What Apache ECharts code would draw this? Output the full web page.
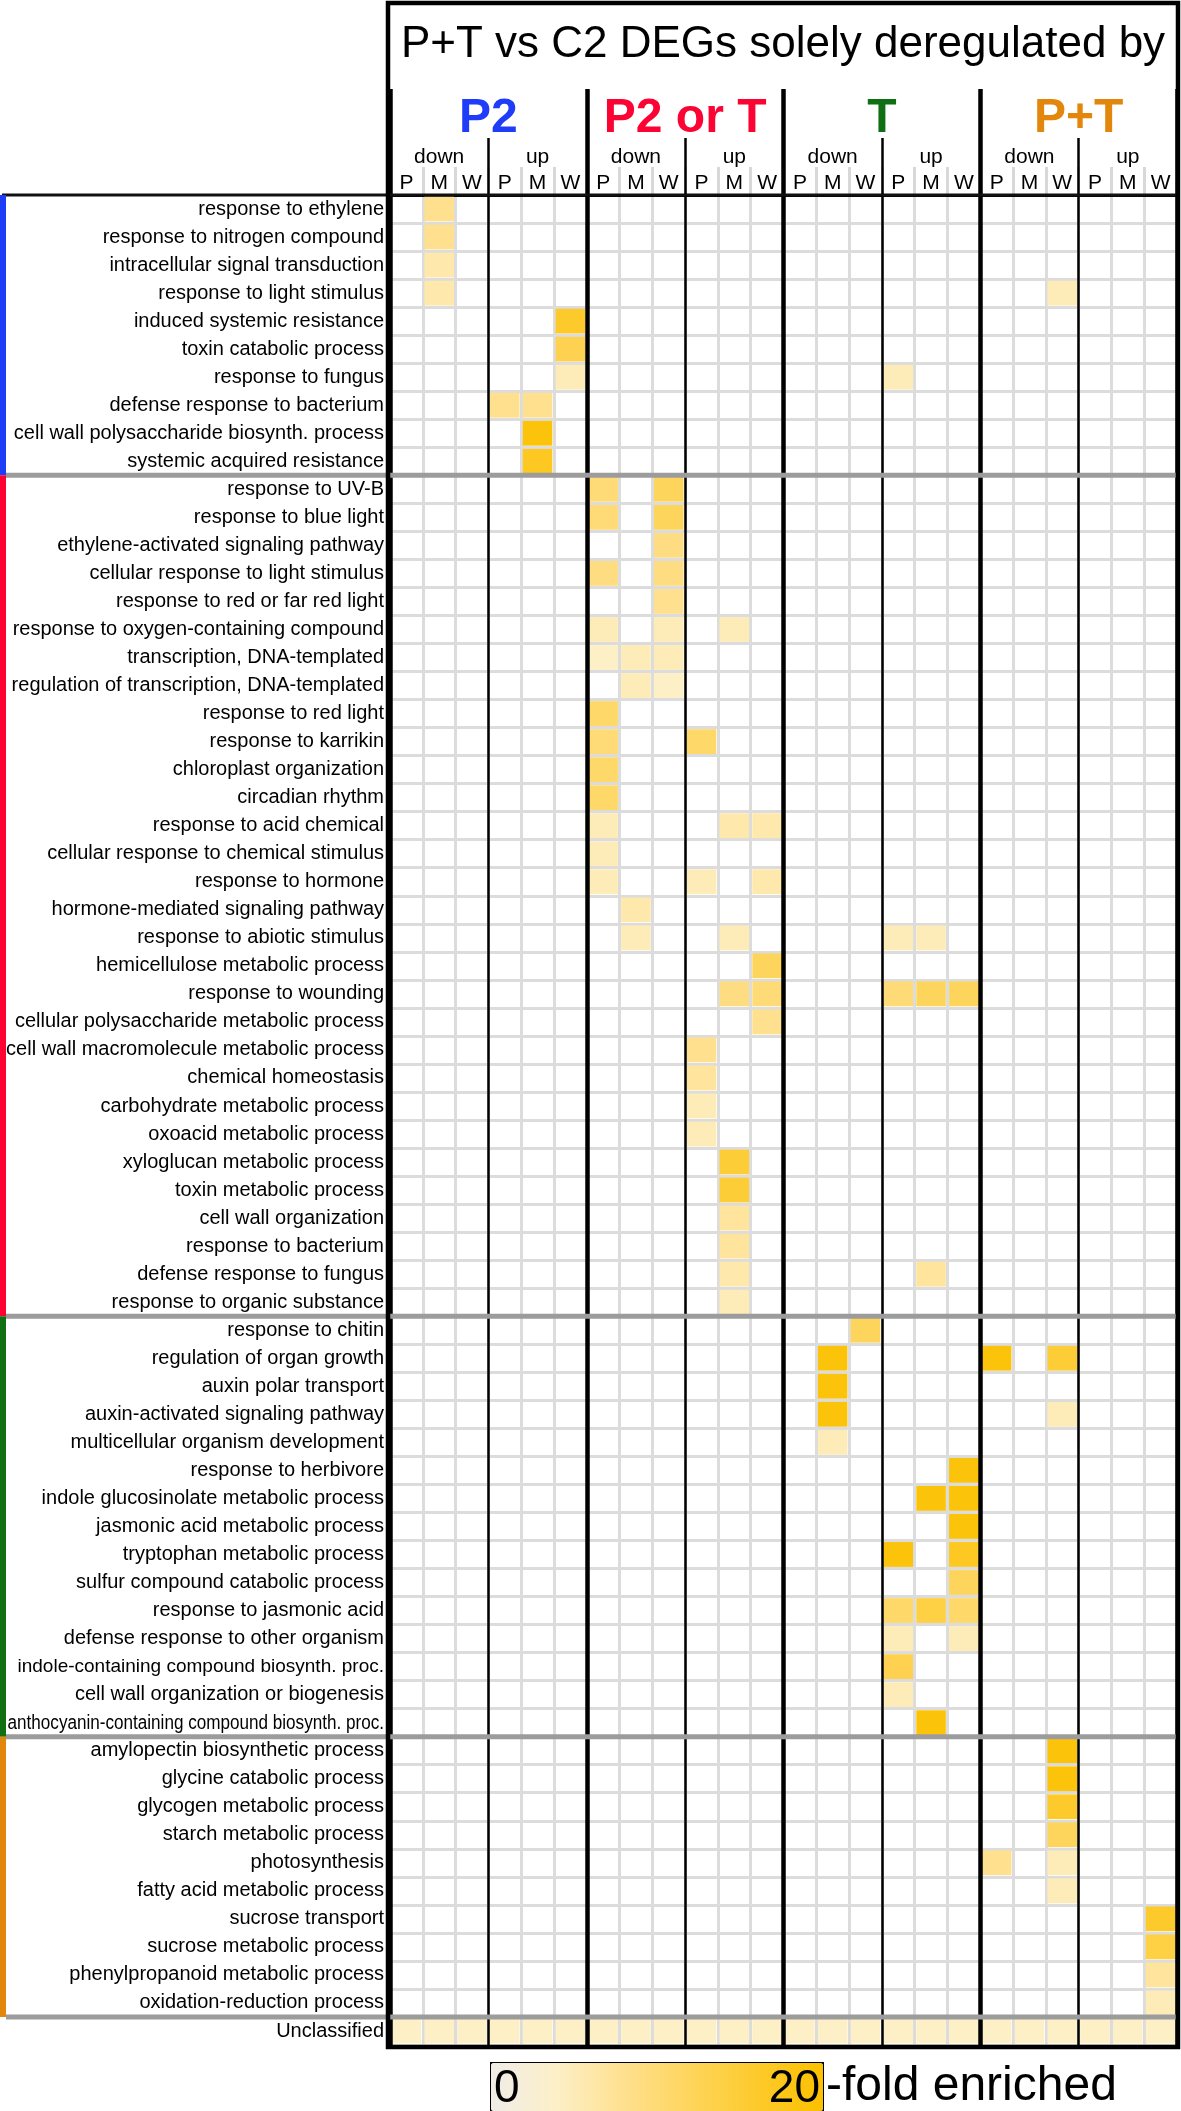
<!DOCTYPE html>
<html><head><meta charset="utf-8">
<script src="https://cdn.jsdelivr.net/npm/echarts@6/dist/echarts.min.js"></script>
<style>html,body{margin:0;padding:0;background:#fff}#c{width:1181px;height:2111px}</style>
</head><body><div id="c"></div>
<script>
// ---------- categories ----------
const groups = ['P2', 'P2 or T', 'T', 'P+T'];
const directions = ['down', 'up'];
const tissues = ['P', 'M', 'W'];
const groupColors = ['#1f3cf8', '#fb0333', '#0f6f12', '#e3860c'];

const termsP2 = ['response to ethylene','response to nitrogen compound','intracellular signal transduction','response to light stimulus','induced systemic resistance','toxin catabolic process','response to fungus','defense response to bacterium','cell wall polysaccharide biosynth. process','systemic acquired resistance'];
const termsP2orT = ['response to UV-B','response to blue light','ethylene-activated signaling pathway','cellular response to light stimulus','response to red or far red light','response to oxygen-containing compound','transcription, DNA-templated','regulation of transcription, DNA-templated','response to red light','response to karrikin','chloroplast organization','circadian rhythm','response to acid chemical','cellular response to chemical stimulus','response to hormone','hormone-mediated signaling pathway','response to abiotic stimulus','hemicellulose metabolic process','response to wounding','cellular polysaccharide metabolic process','cell wall macromolecule metabolic process','chemical homeostasis','carbohydrate metabolic process','oxoacid metabolic process','xyloglucan metabolic process','toxin metabolic process','cell wall organization','response to bacterium','defense response to fungus','response to organic substance'];
const termsT = ['response to chitin','regulation of organ growth','auxin polar transport','auxin-activated signaling pathway','multicellular organism development','response to herbivore','indole glucosinolate metabolic process','jasmonic acid metabolic process','tryptophan metabolic process','sulfur compound catabolic process','response to jasmonic acid','defense response to other organism','indole-containing compound biosynth. proc.','cell wall organization or biogenesis','anthocyanin-containing compound biosynth. proc.'];
const termsPT = ['amylopectin biosynthetic process','glycine catabolic process','glycogen metabolic process','starch metabolic process','photosynthesis','fatty acid metabolic process','sucrose transport','sucrose metabolic process','phenylpropanoid metabolic process','oxidation-reduction process'];
const termsOther = ['Unclassified'];

// ---------- values: [term, group, direction, tissue, fold enrichment] ----------
const cellsP2 = [
  ['response to ethylene','P2','down','M',8],
  ['response to nitrogen compound','P2','down','M',8],
  ['intracellular signal transduction','P2','down','M',6],
  ['response to light stimulus','P2','down','M',6],
  ['response to light stimulus','P+T','down','W',5],
  ['induced systemic resistance','P2','up','W',16],
  ['toxin catabolic process','P2','up','W',13],
  ['response to fungus','P2','up','W',5],
  ['response to fungus','T','up','P',5],
  ['defense response to bacterium','P2','up','P',8],
  ['defense response to bacterium','P2','up','M',8],
  ['cell wall polysaccharide biosynth. process','P2','up','M',19],
  ['systemic acquired resistance','P2','up','M',17]
];
const cellsP2orT = [
  ['response to UV-B','P2 or T','down','P',10],
  ['response to UV-B','P2 or T','down','W',12],
  ['response to blue light','P2 or T','down','P',10],
  ['response to blue light','P2 or T','down','W',12],
  ['ethylene-activated signaling pathway','P2 or T','down','W',9],
  ['cellular response to light stimulus','P2 or T','down','P',9],
  ['cellular response to light stimulus','P2 or T','down','W',9],
  ['response to red or far red light','P2 or T','down','W',8],
  ['response to oxygen-containing compound','P2 or T','down','P',5],
  ['response to oxygen-containing compound','P2 or T','down','W',5],
  ['response to oxygen-containing compound','P2 or T','up','M',5],
  ['transcription, DNA-templated','P2 or T','down','P',4],
  ['transcription, DNA-templated','P2 or T','down','M',5],
  ['transcription, DNA-templated','P2 or T','down','W',5],
  ['regulation of transcription, DNA-templated','P2 or T','down','M',5],
  ['regulation of transcription, DNA-templated','P2 or T','down','W',4],
  ['response to red light','P2 or T','down','P',11],
  ['response to karrikin','P2 or T','down','P',10],
  ['response to karrikin','P2 or T','up','P',11],
  ['chloroplast organization','P2 or T','down','P',11],
  ['circadian rhythm','P2 or T','down','P',11],
  ['response to acid chemical','P2 or T','down','P',5],
  ['response to acid chemical','P2 or T','up','M',6],
  ['response to acid chemical','P2 or T','up','W',6],
  ['cellular response to chemical stimulus','P2 or T','down','P',5],
  ['response to hormone','P2 or T','down','P',5],
  ['response to hormone','P2 or T','up','P',5],
  ['response to hormone','P2 or T','up','W',6],
  ['hormone-mediated signaling pathway','P2 or T','down','M',6],
  ['response to abiotic stimulus','P2 or T','down','M',5],
  ['response to abiotic stimulus','P2 or T','up','M',5],
  ['response to abiotic stimulus','T','up','P',5],
  ['response to abiotic stimulus','T','up','M',5],
  ['hemicellulose metabolic process','P2 or T','up','W',12],
  ['response to wounding','P2 or T','up','M',9],
  ['response to wounding','P2 or T','up','W',10],
  ['response to wounding','T','up','P',10],
  ['response to wounding','T','up','M',12],
  ['response to wounding','T','up','W',12],
  ['cellular polysaccharide metabolic process','P2 or T','up','W',8],
  ['cell wall macromolecule metabolic process','P2 or T','up','P',8],
  ['chemical homeostasis','P2 or T','up','P',7],
  ['carbohydrate metabolic process','P2 or T','up','P',5],
  ['oxoacid metabolic process','P2 or T','up','P',5],
  ['xyloglucan metabolic process','P2 or T','up','M',15],
  ['toxin metabolic process','P2 or T','up','M',15],
  ['cell wall organization','P2 or T','up','M',7],
  ['response to bacterium','P2 or T','up','M',7],
  ['defense response to fungus','P2 or T','up','M',6],
  ['defense response to fungus','T','up','M',7],
  ['response to organic substance','P2 or T','up','M',5]
];
const cellsT = [
  ['response to chitin','T','down','W',12],
  ['regulation of organ growth','T','down','M',19],
  ['regulation of organ growth','P+T','down','P',19],
  ['regulation of organ growth','P+T','down','W',15],
  ['auxin polar transport','T','down','M',19],
  ['auxin-activated signaling pathway','T','down','M',19],
  ['auxin-activated signaling pathway','P+T','down','W',5],
  ['multicellular organism development','T','down','M',5],
  ['response to herbivore','T','up','W',19],
  ['indole glucosinolate metabolic process','T','up','M',19],
  ['indole glucosinolate metabolic process','T','up','W',19],
  ['jasmonic acid metabolic process','T','up','W',19],
  ['tryptophan metabolic process','T','up','P',19],
  ['tryptophan metabolic process','T','up','W',17],
  ['sulfur compound catabolic process','T','up','W',12],
  ['response to jasmonic acid','T','up','P',11],
  ['response to jasmonic acid','T','up','M',14],
  ['response to jasmonic acid','T','up','W',11],
  ['defense response to other organism','T','up','P',5],
  ['defense response to other organism','T','up','W',5],
  ['indole-containing compound biosynth. proc.','T','up','P',13],
  ['cell wall organization or biogenesis','T','up','P',5],
  ['anthocyanin-containing compound biosynth. proc.','T','up','M',19]
];
const cellsPT = [
  ['amylopectin biosynthetic process','P+T','down','W',19],
  ['glycine catabolic process','P+T','down','W',19],
  ['glycogen metabolic process','P+T','down','W',16],
  ['starch metabolic process','P+T','down','W',12],
  ['photosynthesis','P+T','down','P',8],
  ['photosynthesis','P+T','down','W',5],
  ['fatty acid metabolic process','P+T','down','W',5],
  ['sucrose transport','P+T','up','W',16],
  ['sucrose metabolic process','P+T','up','W',14],
  ['phenylpropanoid metabolic process','P+T','up','W',7],
  ['oxidation-reduction process','P+T','up','W',5]
];
// Unclassified row, one value per column (P2 down P ... P+T up W)
const unclassifiedRow = [4,4,4,4,4,4,4,4,4,4,4,4,4,4,4,4,4,4,4,4,4,4,4,4];

// legend scale
const scaleMin = 0;
const scaleMax = 20;

// ---------- build ----------
const FONT = '"Liberation Sans", Arial, Helvetica, sans-serif';
const LABEL_MARGIN = 6;
const termGroups = [termsP2, termsP2orT, termsT, termsPT];
const rowTerms = [].concat(termsP2, termsP2orT, termsT, termsPT, termsOther);
const condensedTerms = ['anthocyanin-containing compound biosynth. proc.'];
const colIds = [];
const dirIds = [];
groups.forEach(g => directions.forEach(d => {
  dirIds.push(g + '|' + d);
  tissues.forEach(t => colIds.push(g + '|' + d + '|' + t));
}));
const cellData = [];
[].concat(cellsP2, cellsP2orT, cellsT, cellsPT).forEach(([term, g, d, t, v]) => {
  cellData.push([colIds.indexOf(g + '|' + d + '|' + t), rowTerms.indexOf(term), v]);
});
unclassifiedRow.forEach((v, i) => cellData.push([i, rowTerms.indexOf('Unclassified'), v]));

const bandData = [];
const ruleData = [[0, 0]];
let start = 0;
termGroups.forEach((arr, gi) => {
  bandData.push([0, start, start + arr.length - 1, gi]);
  start += arr.length;
  ruleData.push([start, 1]);
});
const condensedData = condensedTerms.map(t => [0, rowTerms.indexOf(t)]);

const richGroups = {};
groups.forEach((g, i) => {
  richGroups['g' + i] = {color: groupColors[i], fontSize: 48, fontWeight: 'bold', fontFamily: FONT};
});

function rowLabel(v) {
  if (condensedTerms.indexOf(v) >= 0) return '';          // drawn condensed by the "condensedLabels" series
  if (v.indexOf('indole-containing') === 0) return '{b|' + v + '}';
  return v;
}

const chart = echarts.init(document.getElementById('c'), null, {renderer: 'canvas'});
chart.setOption({
  backgroundColor: '#ffffff',
  animation: false,
  title: {
    text: 'P+T vs C2 DEGs solely deregulated by',
    left: 783, top: 23, padding: 0, textAlign: 'center',
    textStyle: {fontSize: 44, fontWeight: 'normal', color: '#000', fontFamily: FONT}
  },
  grid: {left: 390, top: 195, width: 787, height: 1850},
  xAxis: [
    {
      type: 'category', data: colIds, position: 'top', z: 1,
      axisLine: {show: true, lineStyle: {color: '#000', width: 3}},
      axisTick: {show: true, interval: 0, length: 28, lineStyle: {color: '#d8d8d8', width: 3}},
      axisLabel: {interval: 0, margin: 1, fontSize: 21, color: '#000', fontFamily: FONT,
        formatter: v => v.split('|')[2]},
      splitLine: {show: true, interval: 0, lineStyle: {color: '#dcdcdc', width: 3}}
    },
    {
      type: 'category', data: dirIds, position: 'top', z: 3,
      axisLine: {show: false},
      axisTick: {show: true, interval: 0, length: 57, lineStyle: {color: '#000', width: 2.5}},
      axisLabel: {interval: 0, margin: 27, fontSize: 21, color: '#000', fontFamily: FONT,
        formatter: v => v.split('|')[1]},
      splitLine: {show: true, interval: 0, lineStyle: {color: '#000', width: 2.5}}
    },
    {
      type: 'category', data: groups, position: 'top', z: 4,
      axisLine: {show: false},
      axisTick: {show: true, interval: 0, length: 106, lineStyle: {color: '#000', width: 4.5}},
      axisLabel: {interval: 0, margin: 52, formatter: (v, i) => '{g' + i + '|' + v + '}', rich: richGroups},
      splitLine: {show: true, interval: 0, lineStyle: {color: '#000', width: 4.5}}
    }
  ],
  yAxis: {
    type: 'category', data: rowTerms, inverse: true, z: 1,
    axisLine: {show: false}, axisTick: {show: false},
    axisLabel: {interval: 0, margin: LABEL_MARGIN, fontSize: 20, color: '#000', fontFamily: FONT,
      formatter: rowLabel,
      rich: {b: {fontSize: 19, color: '#000', fontFamily: FONT}}},
    splitLine: {show: true, interval: 0, lineStyle: {color: '#dcdcdc', width: 3}}
  },
  visualMap: {
    type: 'continuous', seriesIndex: 0, dimension: 2,
    min: scaleMin, max: scaleMax, calculable: false, orient: 'horizontal',
    left: 490, top: 2062, itemWidth: 48, itemHeight: 332, padding: 0,
    borderColor: '#000', borderWidth: 2, hoverLink: false,
    inRange: {color: ['#efede8', '#fdefc6', '#fee08f', '#fed55c', '#fdca2c', '#fbc000']}
  },
  series: [
    {
      type: 'custom', name: 'enrichment', coordinateSystem: 'cartesian2d', z: 2,
      data: cellData,
      renderItem: (params, api) => {
        const c = api.coord([api.value(0), api.value(1)]);
        const s = api.size([1, 1]);
        const ins = 1.6;
        return {type: 'rect',
          shape: {x: c[0] - s[0] / 2 + ins, y: c[1] - s[1] / 2 + ins, width: s[0] - 2 * ins, height: s[1] - 2 * ins},
          style: {fill: api.visual('color')}};
      }
    },
    {
      type: 'custom', name: 'bands', coordinateSystem: 'cartesian2d', z: 6, silent: true,
      data: bandData,
      renderItem: (params, api) => {
        const s = api.size([1, 1]);
        const y0 = api.coord([0, api.value(1)])[1] - s[1] / 2;
        const y1 = api.coord([0, api.value(2)])[1] + s[1] / 2;
        return {type: 'rect', shape: {x: 0, y: y0, width: 6, height: y1 - y0},
          style: {fill: groupColors[api.value(3)]}};
      }
    },
    {
      type: 'custom', name: 'rules', coordinateSystem: 'cartesian2d', z: 5, silent: true,
      data: ruleData,
      renderItem: (params, api) => {
        const s = api.size([1, 1]);
        const kind = api.value(1);
        const y = api.coord([0, api.value(0)])[1] - s[1] / 2;
        const xr = api.coord([colIds.length - 1, 0])[0] + s[0] / 2;
        return {type: 'line',
          shape: {x1: kind === 0 ? 2 : 6, y1: y, x2: xr, y2: y},
          style: {stroke: kind === 0 ? '#111' : '#9c9c9c', lineWidth: kind === 0 ? 3 : 5}};
      }
    },
    {
      type: 'custom', name: 'condensedLabels', coordinateSystem: 'cartesian2d', z: 6, silent: true,
      data: condensedData,
      renderItem: (params, api) => {
        const c = api.coord([0, api.value(1)]);
        const s = api.size([1, 1]);
        return {type: 'text', x: c[0] - s[0] / 2 - LABEL_MARGIN, y: c[1] + 1, scaleX: 0.855,
          style: {text: rowTerms[api.value(1)], x: 0, y: 0, align: 'right', verticalAlign: 'middle',
            font: '20px ' + FONT, fill: '#000'}};
      }
    }
  ],
  graphic: [
    {type: 'rect', z: 100, silent: true,
      shape: {x: 388, y: 3, width: 790, height: 2044},
      style: {fill: null, stroke: '#000', lineWidth: 4.5}},
    {type: 'text', z: 100, left: 494, top: 2066,
      style: {text: String(scaleMin), font: '46px ' + FONT, fill: '#000'}},
    {type: 'text', z: 100, right: 1181 - 820, top: 2066,
      style: {text: String(scaleMax), font: '46px ' + FONT, fill: '#000'}},
    {type: 'text', z: 100, left: 826, top: 2063,
      style: {text: '-fold enriched', font: '48px ' + FONT, fill: '#000'}}
  ]
});
</script>
</body></html>
